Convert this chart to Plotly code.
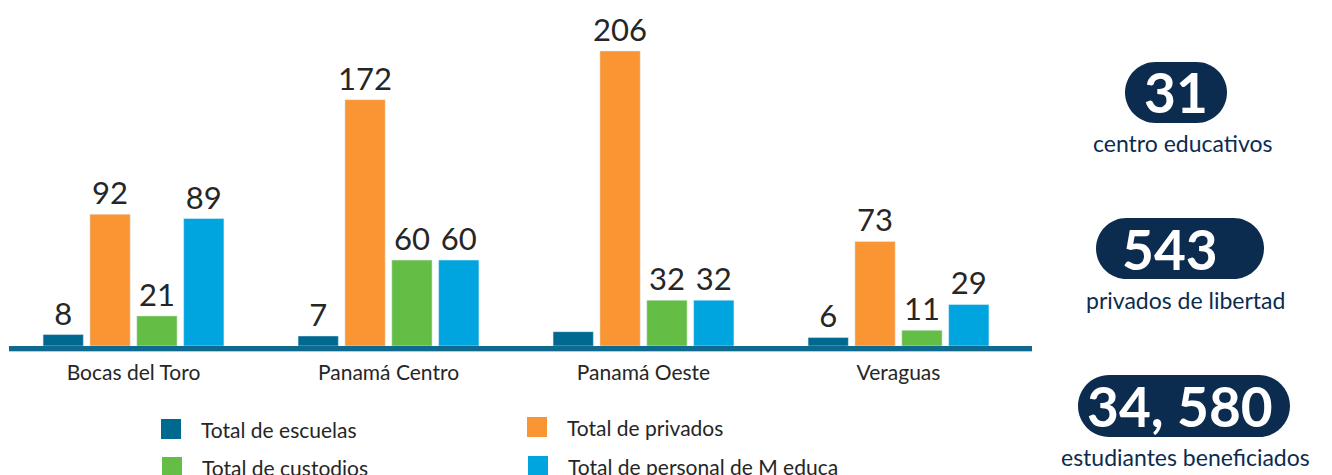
import plotly.graph_objects as go

# datos del grafico
regiones = ["Bocas del Toro", "Panamá Centro", "Panamá Oeste", "Veraguas"]
total_escuelas = [8, 7, 10, 6]
total_privados = [92, 172, 206, 73]
total_custodios = [21, 60, 32, 11]
total_meduca = [89, 60, 32, 29]
etiquetas_escuelas = ["8", "7", "", "6"]

series = ["Total de escuelas", "Total de privados", "Total de custodios", "Total de personal de M educa"]
colores = ["#006990", "#f99533", "#64be45", "#00a5e0"]

resumen_numeros = ["31", "543", "34, 580"]
resumen_textos = ["centro educativos", "privados de libertad", "estudiantes beneficiados"]

W, H = 1332, 475
AZUL = "#0c2c4f"
TEXTO = "#262626"


def px_x(v):
	return v / W


def px_y(v):
	return 1 - v / H


def pill_path(x0, x1, y0, y1):
	"""rounded pill path, pixel coords in, paper coords out"""
	r = (y1 - y0) / 2
	yc = y0 + r
	k = 0.5523 * r
	pts = [
		("M", [(x0 + r, y0)]),
		("L", [(x1 - r, y0)]),
		("C", [(x1 - r + k, y0), (x1, yc - k), (x1, yc)]),
		("C", [(x1, yc + k), (x1 - r + k, y1), (x1 - r, y1)]),
		("L", [(x0 + r, y1)]),
		("C", [(x0 + r - k, y1), (x0, yc + k), (x0, yc)]),
		("C", [(x0, yc - k), (x0 + r - k, y0), (x0 + r, y0)]),
	]
	s = ""
	for cmd, coords in pts:
		s += cmd + " ".join("%.5f,%.5f" % (px_x(a), px_y(b)) for a, b in coords) + " "
	return s + "Z"


fig = go.Figure()
valores = [total_escuelas, total_privados, total_custodios, total_meduca]
for i in range(len(series)):
	if i == 0:
		txt = etiquetas_escuelas
	else:
		txt = [str(v) for v in valores[i]]
	fig.add_trace(go.Bar(x=regiones, y=valores[i], name=series[i], marker_color=colores[i],
		text=txt, textposition="outside", cliponaxis=False, constraintext="none",
		textfont=dict(family="Lato", size=31, color=TEXTO), showlegend=False))

# linea base (mas gruesa que la del eje, con filo claro debajo)
shapes = [
	dict(type="rect", xref="paper", yref="paper", x0=px_x(9), x1=px_x(1032),
		y0=px_y(352), y1=px_y(350.5), fillcolor="#9fd3e6", line_width=0),
	dict(type="rect", xref="paper", yref="paper", x0=px_x(9), x1=px_x(1032),
		y0=px_y(351), y1=px_y(346), fillcolor="#0e6a8e", line_width=0),
]
annotations = []

# leyenda manual (2 x 2)
leg_pos = [(161, 429), (527, 427), (162, 467), (528, 466)]
for i in range(len(series)):
	lx, ly = leg_pos[i]
	shapes.append(dict(type="rect", xref="paper", yref="paper",
		x0=px_x(lx), x1=px_x(lx + 20), y0=px_y(ly + 10), y1=px_y(ly - 10),
		fillcolor=colores[i], line_width=0))
	annotations.append(dict(xref="paper", yref="paper", x=px_x(lx + 38), y=px_y(ly),
		xanchor="left", yanchor="middle", showarrow=False, text=series[i],
		font=dict(family="Lato", size=21, color=TEXTO)))

# resumen a la derecha
pills = [(1125, 1227, 62, 123), (1096, 1264, 218, 279), (1078, 1290, 375, 437)]
num_x = [1176, 1170, 1180]
cap_pos = [(1183, 143), (1185, 300), (1185, 457)]
for i in range(len(resumen_numeros)):
	x0, x1, y0, y1 = pills[i]
	shapes.append(dict(type="path", xref="paper", yref="paper", path=pill_path(x0, x1, y0, y1),
		fillcolor=AZUL, line_width=0))
	annotations.append(dict(xref="paper", yref="paper", x=px_x(num_x[i]), y=px_y((y0 + y1) / 2),
		xanchor="center", yanchor="middle", showarrow=False, text="<b>" + resumen_numeros[i] + "</b>",
		font=dict(family="Lato", size=55, color="white")))
	cx, cy = cap_pos[i]
	annotations.append(dict(xref="paper", yref="paper", x=px_x(cx), y=px_y(cy),
		xanchor="center", yanchor="middle", showarrow=False, text=resumen_textos[i],
		font=dict(family="Lato", size=23, color=AZUL)))

fig.update_layout(
	width=W, height=H,
	margin=dict(l=0, r=0, t=0, b=0),
	paper_bgcolor="white", plot_bgcolor="white",
	barmode="group", bargap=0.265, bargroupgap=0.14,
	shapes=shapes, annotations=annotations,
	xaxis=dict(domain=[px_x(6), px_x(1026)], showline=False,
		ticks="outside", ticklen=8, tickcolor="rgba(0,0,0,0)", showgrid=False,
		tickfont=dict(family="Lato", size=21, color=TEXTO)),
	yaxis=dict(domain=[px_y(346), px_y(16.6)], range=[0, 230], visible=False),
)

# body margin off so the figure sits at the top-left corner
fig.write_html("out.html", config={"displayModeBar": False},
	post_script="document.body.style.margin='0';")
